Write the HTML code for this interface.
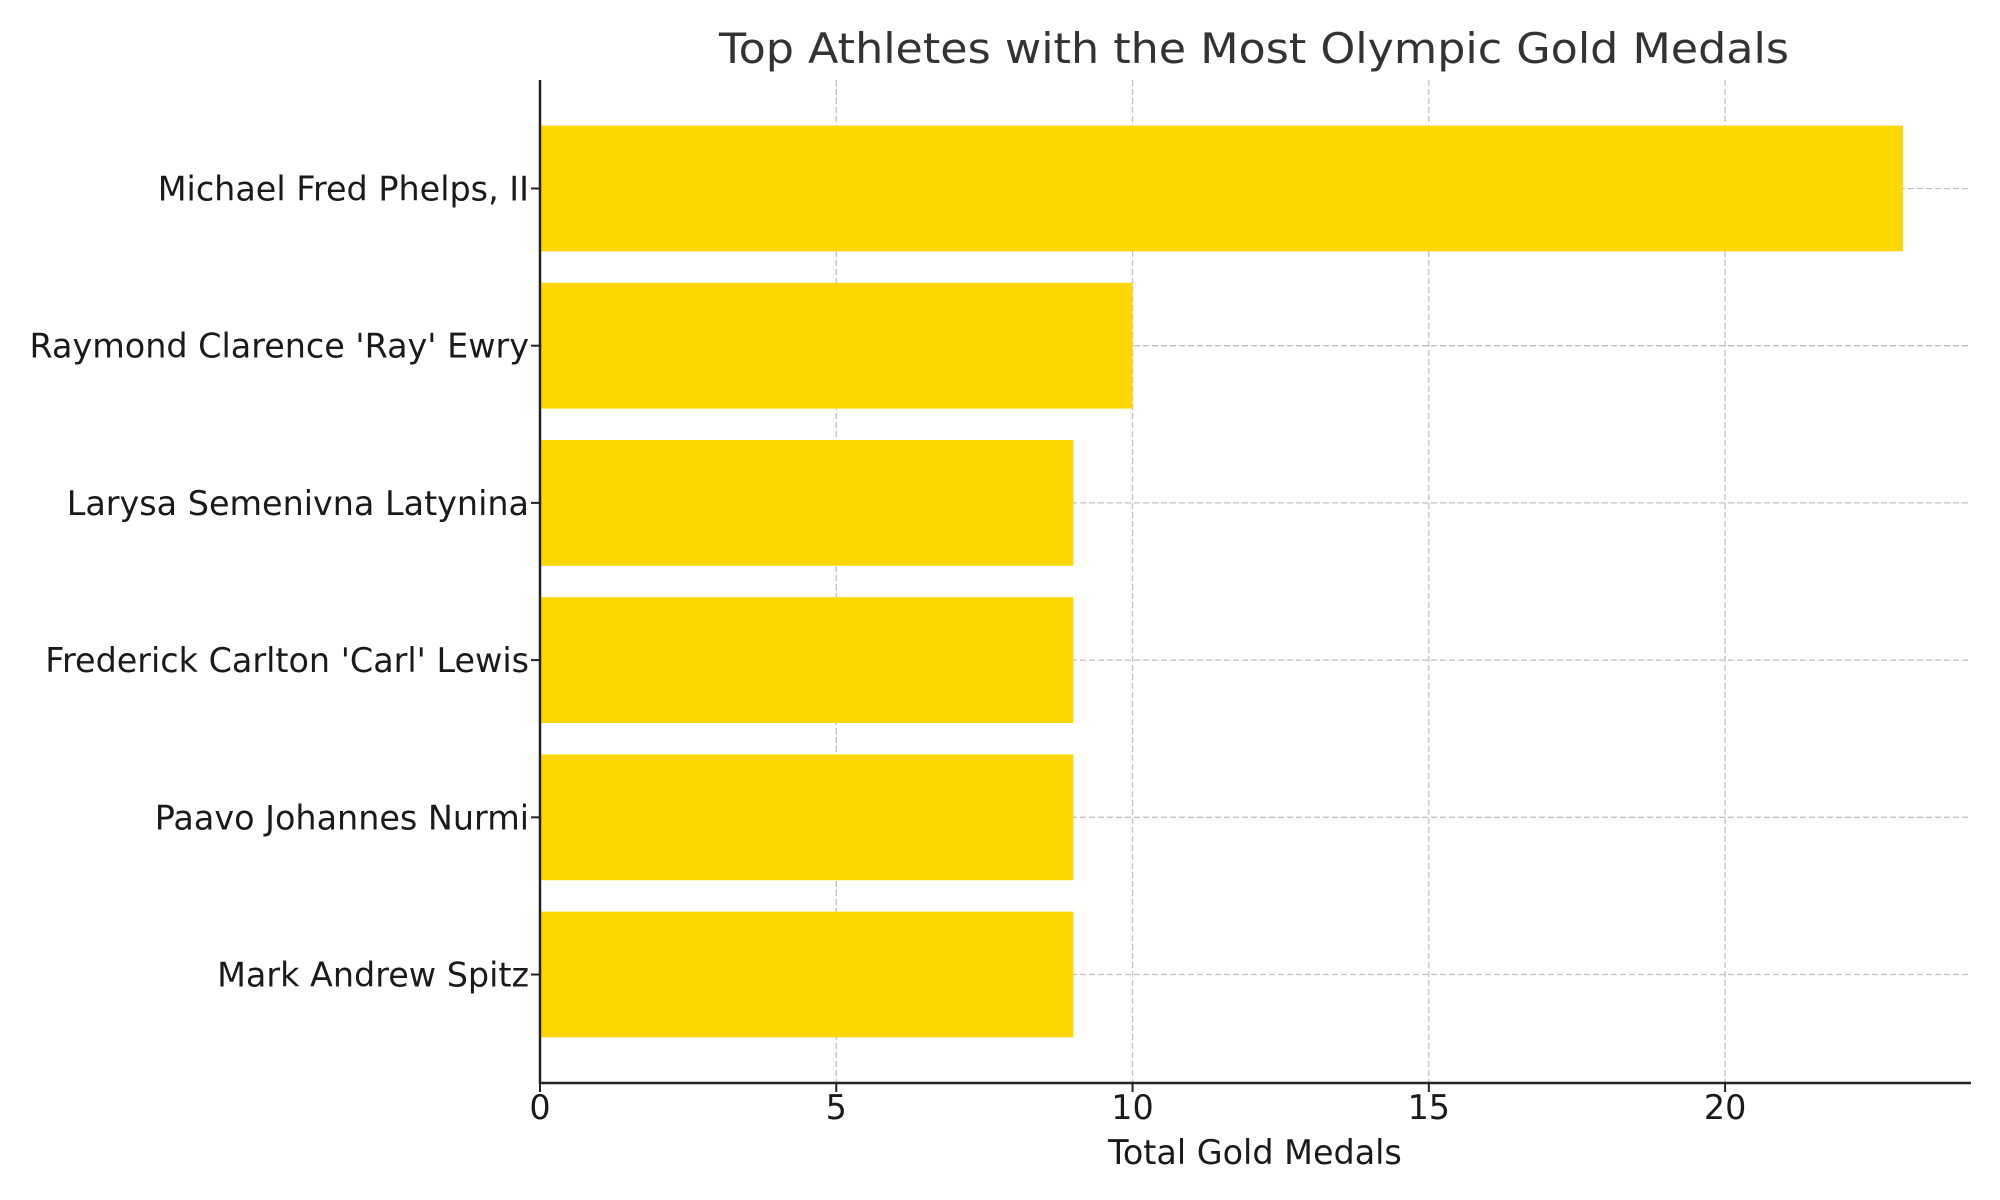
<!DOCTYPE html>
<html><head><meta charset="utf-8"><style>
html,body{margin:0;padding:0;background:#fff;}
svg{display:block;font-family:"DejaVu Sans","Liberation Sans",sans-serif;}
</style></head><body>
<svg id="chart" width="2000" height="1200" viewBox="0 0 2000 1200">
<g id="grid"></g>
<g id="bars"></g>
<g id="axes"></g>
<text x="1254" y="63" text-anchor="middle" font-size="42" fill="#333" textLength="1070" lengthAdjust="spacingAndGlyphs">Top Athletes with the Most Olympic Gold Medals</text>
<text x="1255" y="1164" text-anchor="middle" font-size="33.4" fill="#1a1a1a">Total Gold Medals</text>
</svg>
<script>
const athletes = ["Michael Fred Phelps, II","Raymond Clarence 'Ray' Ewry","Larysa Semenivna Latynina","Frederick Carlton 'Carl' Lewis","Paavo Johannes Nurmi","Mark Andrew Spitz"];
const medals = [23, 10, 9, 9, 9, 9];
const xTicks = [0, 5, 10, 15, 20];

const NS = "http://www.w3.org/2000/svg";
const L = 540, R = 1971, T = 80, B = 1083;
const xMax = Math.max(...medals) * 1.05;
const n = athletes.length;
const yMin = -0.69, yMax = n - 1 + 0.69;
function xs(v){ return L + (v / xMax) * (R - L); }
function ys(i){
  const k = n - 1 - i;
  return B - (k - yMin) / (yMax - yMin) * (B - T);
}
function mk(tag, attrs, parent){
  const e = document.createElementNS(NS, tag);
  for (const k in attrs) e.setAttribute(k, attrs[k]);
  parent.appendChild(e);
  return e;
}
const grid = document.getElementById('grid');
const bars = document.getElementById('bars');
const axes = document.getElementById('axes');
const bandPx = (B - T) / (yMax - yMin);

xTicks.forEach(t => {
  const g = mk('line', {x1: xs(t), x2: xs(t), y1: T, y2: B, stroke: '#c0c0c0', 'stroke-width': 1.3, 'stroke-dasharray': '6,3'}, grid);
  
  
});
athletes.forEach((a, i) => {
  const g = mk('line', {x1: L, x2: R, y1: ys(i), y2: ys(i), stroke: '#c0c0c0', 'stroke-width': 1.3, 'stroke-dasharray': '6,3'}, grid);
  
  
});
athletes.forEach((a, i) => {
  const h = bandPx * 0.8;
  const r = mk('rect', {x: xs(0), y: ys(i) - h / 2, width: xs(medals[i]) - xs(0), height: h, fill: '#FFD700'}, bars);
  
  
  const t = mk('text', {x: L - 11, y: ys(i) + 12, 'text-anchor': 'end', 'font-size': 33.4, fill: '#1a1a1a'}, axes);
  t.textContent = a;
  
  
  const tk = mk('line', {x1: L - 9, x2: L, y1: ys(i), y2: ys(i), stroke: '#222', 'stroke-width': 2}, axes);
  
  
});
xTicks.forEach(t => {
  const tk = mk('line', {x1: xs(t), x2: xs(t), y1: B, y2: B + 9, stroke: '#222', 'stroke-width': 2}, axes);
  
  
  const tx = mk('text', {x: xs(t), y: B + 36, 'text-anchor': 'middle', 'font-size': 33.4, fill: '#1a1a1a'}, axes);
  tx.textContent = t;
  
  
});
const ls = mk('line', {x1: L, x2: L, y1: T, y2: B + 1, stroke: '#222', 'stroke-width': 2.5}, axes);


const bs = mk('line', {x1: L - 1, x2: R, y1: B, y2: B, stroke: '#222', 'stroke-width': 2.5}, axes);


</script>
</body></html>
